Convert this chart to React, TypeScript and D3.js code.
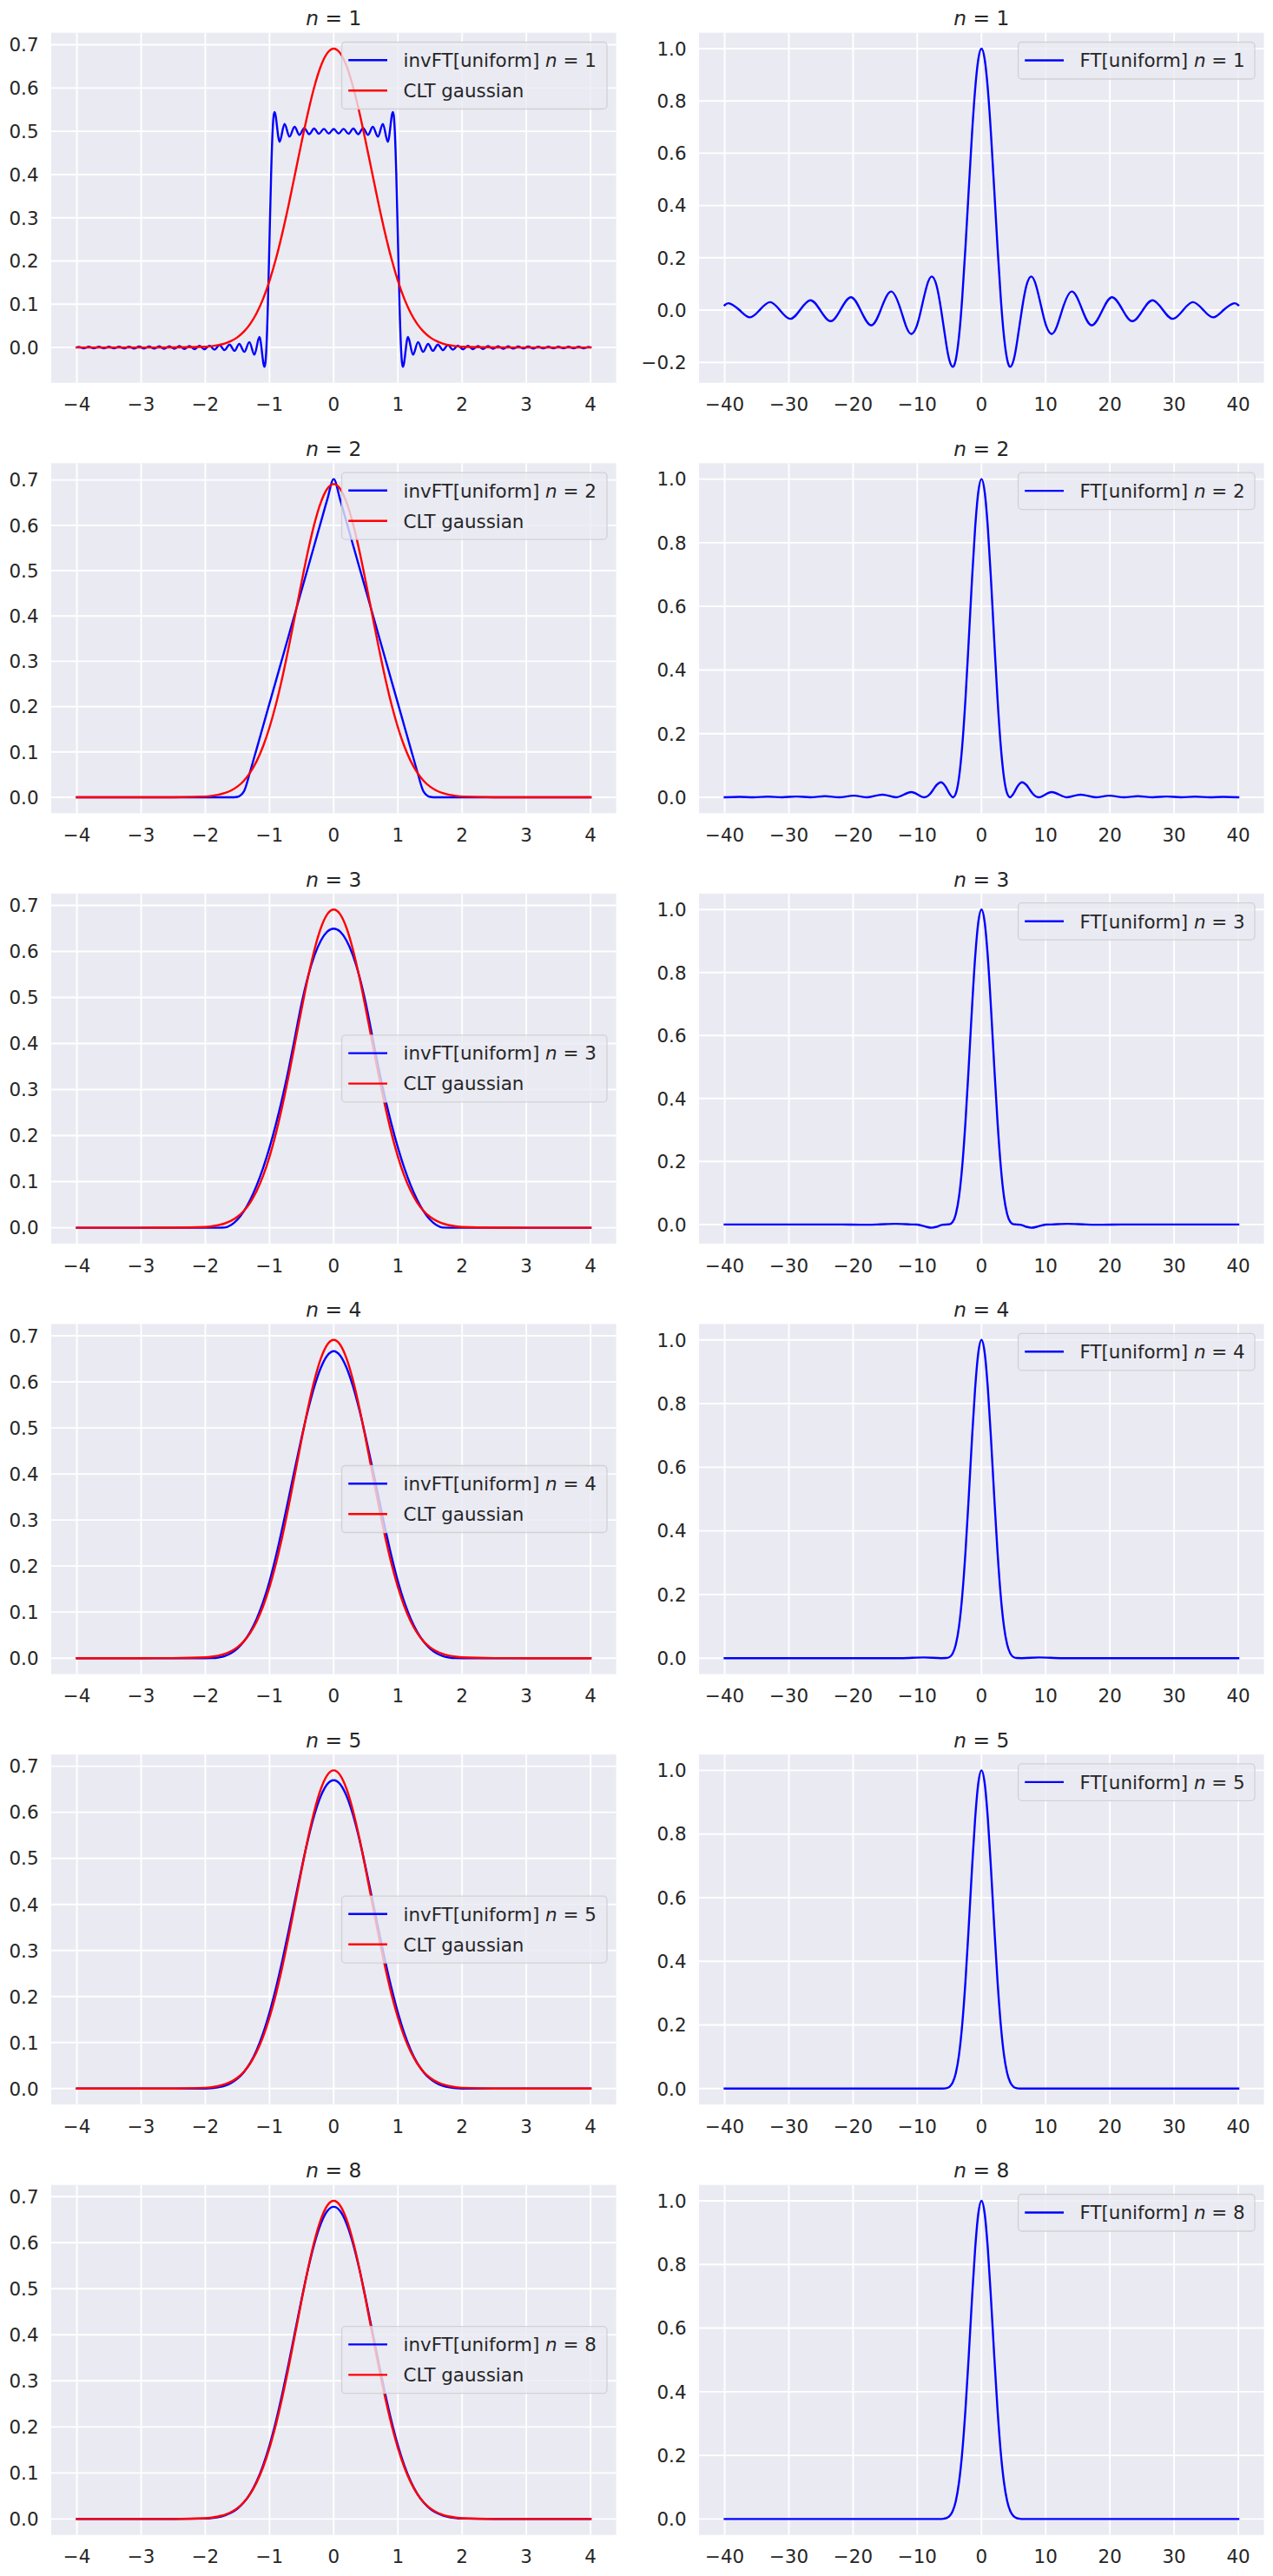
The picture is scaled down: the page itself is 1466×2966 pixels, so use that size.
import React from "react";
import * as d3 from "d3";

type Pt = [number, number];

// ---------- ticks ----------
const leftXTicks = [-4, -3, -2, -1, 0, 1, 2, 3, 4];
const leftYTicks = [0, 0.1, 0.2, 0.3, 0.4, 0.5, 0.6, 0.7];
const rightXTicks = [-40, -30, -20, -10, 0, 10, 20, 30, 40];
const rightYTicksFirst = [-0.2, 0, 0.2, 0.4, 0.6, 0.8, 1.0];
const rightYTicks = [0, 0.2, 0.4, 0.6, 0.8, 1.0];
const sumCounts = [1, 2, 3, 4, 5, 8];

// ---------- density curves on a common x grid ----------
const gridX = [
  -4, -3, -2.5, -2, -1.9, -1.8, -1.7, -1.6, -1.5, -1.4, -1.3, -1.2, -1.1, -1, -0.9, -0.8, -0.7, -0.6, -0.5, -0.4,
  -0.3, -0.2, -0.1, 0, 0.1, 0.2, 0.3, 0.4, 0.5, 0.6, 0.7, 0.8, 0.9, 1, 1.1, 1.2, 1.3, 1.4, 1.5, 1.6, 1.7, 1.8, 1.9,
  2, 2.5, 3, 4,
];

const cltGaussian = [
  0, 0, 0.0001, 0.0017, 0.0031, 0.0054, 0.0091, 0.0149, 0.0236, 0.0365, 0.0548, 0.0797, 0.1125, 0.1542, 0.205,
  0.2646, 0.3313, 0.4027, 0.4749, 0.5436, 0.6037, 0.6508, 0.6807, 0.691, 0.6807, 0.6508, 0.6037, 0.5436, 0.4749,
  0.4027, 0.3313, 0.2646, 0.205, 0.1542, 0.1125, 0.0797, 0.0548, 0.0365, 0.0236, 0.0149, 0.0091, 0.0054, 0.0031,
  0.0017, 0.0001, 0, 0,
];

const invFT2 = [
  0, 0, 0, 0, 0, 0, 0, 0, 0.001, 0.0125, 0.0575, 0.1071, 0.1571, 0.2071, 0.2571, 0.3071, 0.3571, 0.4071, 0.4571,
  0.5071, 0.5571, 0.6071, 0.6571, 0.702, 0.6571, 0.6071, 0.5571, 0.5071, 0.4571, 0.4071, 0.3571, 0.3071, 0.2571,
  0.2071, 0.1571, 0.1071, 0.0575, 0.0125, 0.001, 0, 0, 0, 0, 0, 0, 0, 0,
];

const invFT3 = [
  0, 0, 0, 0, 0, 0, 0.0003, 0.0057, 0.0175, 0.0358, 0.0606, 0.0919, 0.1297, 0.174, 0.2249, 0.2821, 0.3459, 0.4162,
  0.4871, 0.5456, 0.5911, 0.6235, 0.643, 0.6495, 0.643, 0.6235, 0.5911, 0.5456, 0.4871, 0.4162, 0.3459, 0.2821,
  0.2249, 0.174, 0.1297, 0.0919, 0.0606, 0.0358, 0.0175, 0.0057, 0.0003, 0, 0, 0, 0, 0, 0,
];

const invFT4 = [
  0, 0, 0, 0, 0.0002, 0.0013, 0.0045, 0.0107, 0.0208, 0.036, 0.0572, 0.0853, 0.1215, 0.1667, 0.2212, 0.2827, 0.3482,
  0.4147, 0.4792, 0.5387, 0.5902, 0.6307, 0.6572, 0.6667, 0.6572, 0.6307, 0.5902, 0.5387, 0.4792, 0.4147, 0.3482,
  0.2827, 0.2212, 0.1667, 0.1215, 0.0853, 0.0572, 0.036, 0.0208, 0.0107, 0.0045, 0.0013, 0.0002, 0, 0, 0, 0,
];

const invFT5 = [
  0, 0, 0, 0.0002, 0.0009, 0.0026, 0.006, 0.0119, 0.0214, 0.0356, 0.0559, 0.0837, 0.12, 0.165, 0.2181, 0.2783, 0.3436,
  0.4114, 0.4786, 0.5411, 0.5946, 0.6354, 0.661, 0.6697, 0.661, 0.6354, 0.5946, 0.5411, 0.4786, 0.4114, 0.3436,
  0.2783, 0.2181, 0.165, 0.12, 0.0837, 0.0559, 0.0356, 0.0214, 0.0119, 0.006, 0.0026, 0.0009, 0.0002, 0, 0, 0,
];

const invFT8 = [
  0, 0, 0, 0.0009, 0.002, 0.004, 0.0076, 0.0134, 0.0225, 0.036, 0.0554, 0.0818, 0.1165, 0.16, 0.2123, 0.2726, 0.3389,
  0.4085, 0.4777, 0.5424, 0.5983, 0.6415, 0.6687, 0.678, 0.6687, 0.6415, 0.5983, 0.5424, 0.4777, 0.4085, 0.3389,
  0.2726, 0.2123, 0.16, 0.1165, 0.0818, 0.0554, 0.036, 0.0225, 0.0134, 0.0076, 0.004, 0.002, 0.0009, 0, 0, 0,
];

// ---------- truncated inverse transform of the box, n = 1 (ripples kept) ----------
const invFT1: Pt[] = [
  [-4.0, 0.0007], [-3.9719, 0.0016], [-3.8935, -0.0017], [-3.8151, 0.0017], [-3.7366, -0.0018], [-3.6582, 0.0018],
  [-3.5798, -0.0019], [-3.5013, 0.0019], [-3.4229, -0.002], [-3.3445, 0.002], [-3.2661, -0.0021], [-3.1877, 0.0021],
  [-3.1093, -0.0022], [-3.031, 0.0023], [-2.9526, -0.0024], [-2.8742, 0.0025], [-2.7959, -0.0026], [-2.7176, 0.0027],
  [-2.6393, -0.0028], [-2.561, 0.0029], [-2.4827, -0.003], [-2.4044, 0.0032], [-2.3261, -0.0034], [-2.2479, 0.0035],
  [-2.1696, -0.0038], [-2.0914, 0.004], [-2.0132, -0.0043], [-1.9351, 0.0046], [-1.8569, -0.005], [-1.7788, 0.0055],
  [-1.7007, -0.006], [-1.6226, 0.0067], [-1.5446, -0.0076], [-1.4712, 0.0084], [-1.3927, -0.0101], [-1.3142, 0.0125],
  [-1.2356, -0.0166], [-1.1571, 0.0243], [-1.0785, -0.0447], [-1.0625, -0.0331], [-1.05, -0.0055], [-1.025, 0.0994],
  [-1.0, 0.25], [-0.975, 0.4006], [-0.95, 0.5055], [-0.9375, 0.5331], [-0.9215, 0.5445], [-0.8429, 0.4757],
  [-0.766, 0.5168], [-0.688, 0.4874], [-0.61, 0.5102], [-0.533, 0.4915], [-0.4594, 0.5076], [-0.3826, 0.4932],
  [-0.3059, 0.5062], [-0.2294, 0.4942], [-0.1529, 0.5055], [-0.0764, 0.4946], [0, 0.5053],
  [0.0764, 0.4946], [0.1529, 0.5055], [0.2294, 0.4942], [0.3059, 0.5062], [0.3826, 0.4932], [0.4594, 0.5076],
  [0.533, 0.4915], [0.61, 0.5102], [0.688, 0.4874], [0.766, 0.5168], [0.8429, 0.4757], [0.9215, 0.5445],
  [0.9375, 0.5331], [0.95, 0.5055], [0.975, 0.4006], [1.0, 0.25], [1.025, 0.0994], [1.05, -0.0055], [1.0625, -0.0331],
  [1.0785, -0.0447], [1.1571, 0.0243], [1.2356, -0.0166], [1.3142, 0.0125], [1.3927, -0.0101], [1.4712, 0.0084],
  [1.5446, -0.0076], [1.6226, 0.0067], [1.7007, -0.006], [1.7788, 0.0055], [1.8569, -0.005], [1.9351, 0.0046],
  [2.0132, -0.0043], [2.0914, 0.004], [2.1696, -0.0038], [2.2479, 0.0035], [2.3261, -0.0034], [2.4044, 0.0032],
  [2.4827, -0.003], [2.561, 0.0029], [2.6393, -0.0028], [2.7176, 0.0027], [2.7959, -0.0026], [2.8742, 0.0025],
  [2.9526, -0.0024], [3.031, 0.0023], [3.1093, -0.0022], [3.1877, 0.0021], [3.2661, -0.0021], [3.3445, 0.002],
  [3.4229, -0.002], [3.5013, 0.0019], [3.5798, -0.0019], [3.6582, 0.0018], [3.7366, -0.0018], [3.8151, 0.0017],
  [3.8935, -0.0017], [3.9719, 0.0016], [4.0, 0.0007],
];

// ---------- Fourier transforms of the scaled sums ----------
const ft1: Pt[] = [
  [-40, 0.0186], [-39.2444, 0.0255], [-37.6991, 0], [-36.1006, -0.0277], [-34.5575, 0], [-32.9564, 0.0303],
  [-31.4159, 0], [-29.8116, -0.0335], [-28.2743, 0], [-26.6661, 0.0375], [-25.1327, 0], [-23.5195, -0.0425],
  [-21.9911, 0], [-20.3713, 0.049], [-18.8496, 0], [-17.2208, -0.058], [-15.708, 0], [-14.0662, 0.0709],
  [-12.5664, 0], [-11.7, -0.0652], [-10.9041, -0.0913], [-10.1, -0.0619], [-9.4248, 0], [-8.5, 0.0939],
  [-7.7253, 0.1284], [-7, 0.0939], [-6.2832, 0], [-5.5, -0.1283], [-5, -0.1918], [-4.4934, -0.2172], [-4, -0.1892],
  [-3.5, -0.1002], [-3, 0.047], [-2.5, 0.2394], [-2, 0.4546], [-1.5, 0.665], [-1, 0.8415], [-0.5, 0.9589], [0, 1],
  [0.5, 0.9589], [1, 0.8415], [1.5, 0.665], [2, 0.4546], [2.5, 0.2394], [3, 0.047], [3.5, -0.1002], [4, -0.1892],
  [4.4934, -0.2172], [5, -0.1918], [5.5, -0.1283], [6.2832, 0], [7, 0.0939], [7.7253, 0.1284], [8.5, 0.0939],
  [9.4248, 0], [10.1, -0.0619], [10.9041, -0.0913], [11.7, -0.0652], [12.5664, 0], [14.0662, 0.0709], [15.708, 0],
  [17.2208, -0.058], [18.8496, 0], [20.3713, 0.049], [21.9911, 0], [23.5195, -0.0425], [25.1327, 0],
  [26.6661, 0.0375], [28.2743, 0], [29.8116, -0.0335], [31.4159, 0], [32.9564, 0.0303], [34.5575, 0],
  [36.1006, -0.0277], [37.6991, 0], [39.2444, 0.0255], [40, 0.0186],
];

const ft2: Pt[] = [
  [-40, 0], [-37.72, 0.0014], [-35.543, 0], [-33.26, 0.0018], [-31.1, 0], [-28.81, 0.0024], [-26.657, 0],
  [-24.35, 0.0034], [-22.214, 0], [-19.893, 0.005], [-17.772, 0], [-15.42, 0.0083], [-13.329, 0], [-10.925, 0.0165],
  [-8.886, 0], [-8, 0.0107], [-7.5, 0.0246], [-7, 0.0385], [-6.355, 0.0472], [-6, 0.0441], [-5.5, 0.0304],
  [-5, 0.0118], [-4.443, 0], [-4, 0.0119], [-3.5, 0.0624], [-3, 0.1613], [-2.5, 0.3078], [-2, 0.4879], [-1.5, 0.6765],
  [-1, 0.844], [-0.5, 0.959], [0, 1], [0.5, 0.959], [1, 0.844], [1.5, 0.6765], [2, 0.4879], [2.5, 0.3078],
  [3, 0.1613], [3.5, 0.0624], [4, 0.0119], [4.443, 0], [5, 0.0118], [5.5, 0.0304], [6, 0.0441], [6.355, 0.0472],
  [7, 0.0385], [7.5, 0.0246], [8, 0.0107], [8.886, 0], [10.925, 0.0165], [13.329, 0], [15.42, 0.0083], [17.772, 0],
  [19.893, 0.005], [22.214, 0], [24.35, 0.0034], [26.657, 0], [28.81, 0.0024], [31.1, 0], [33.26, 0.0018],
  [35.543, 0], [37.72, 0.0014], [40, 0],
];

const ft3: Pt[] = [
  [-40, 0], [-21.766, 0], [-18.89, -0.0008], [-16.324, 0], [-13.38, 0.0021], [-10.883, 0], [-10, -0.0006],
  [-9, -0.005], [-8.5, -0.008], [-7.783, -0.0103], [-7, -0.0073], [-6.5, -0.0036], [-6, -0.0008], [-5.441, 0],
  [-5, 0.0007], [-4.5, 0.0078], [-4, 0.0328], [-3.5, 0.0885], [-3, 0.185], [-2.5, 0.3247], [-2, 0.497],
  [-1.5, 0.6805], [-1, 0.8452], [-0.5, 0.9591], [0, 1], [0.5, 0.9591], [1, 0.8452], [1.5, 0.6805], [2, 0.497],
  [2.5, 0.3247], [3, 0.185], [3.5, 0.0885], [4, 0.0328], [4.5, 0.0078], [5, 0.0007], [5.441, 0], [6, -0.0008],
  [6.5, -0.0036], [7, -0.0073], [7.783, -0.0103], [8.5, -0.008], [9, -0.005], [10, -0.0006], [10.883, 0],
  [13.38, 0.0021], [16.324, 0], [18.89, -0.0008], [21.766, 0], [40, 0],
];

const ft4: Pt[] = [
  [-40, 0], [-12.566, 0], [-8.987, 0.0022], [-6.283, 0], [-5.5, 0.0004], [-5, 0.0033], [-4.5, 0.0143],
  [-4, 0.0427], [-3.5, 0.1], [-3, 0.1956], [-2.5, 0.3322], [-2, 0.5014], [-1.5, 0.6824], [-1, 0.8455],
  [-0.5, 0.9591], [0, 1], [0.5, 0.9591], [1, 0.8455], [1.5, 0.6824], [2, 0.5014], [2.5, 0.3322], [3, 0.1956],
  [3.5, 0.1], [4, 0.0427], [4.5, 0.0143], [5, 0.0033], [5.5, 0.0004], [6.283, 0], [8.987, 0.0022], [12.566, 0],
  [40, 0],
];

const ft5: Pt[] = [
  [-40, 0], [-7.025, 0], [-6, 0.0001], [-5.5, 0.0011], [-5, 0.0054], [-4.5, 0.0183], [-4, 0.0484], [-3.5, 0.1064],
  [-3, 0.2014], [-2.5, 0.3366], [-2, 0.5039], [-1.5, 0.6834], [-1, 0.8455], [-0.5, 0.9591], [0, 1], [0.5, 0.9591],
  [1, 0.8455], [1.5, 0.6834], [2, 0.5039], [2.5, 0.3366], [3, 0.2014], [3.5, 0.1064], [4, 0.0484], [4.5, 0.0183],
  [5, 0.0054], [5.5, 0.0011], [6, 0.0001], [7.025, 0], [40, 0],
];

const ft8: Pt[] = [
  [-40, 0], [-7, 0], [-6.5, 0.0001], [-6, 0.0007], [-5.5, 0.0028], [-5, 0.009], [-4.5, 0.0243], [-4, 0.0566],
  [-3.5, 0.1156], [-3, 0.2096], [-2.5, 0.3434], [-2, 0.5074], [-1.5, 0.6848], [-1, 0.8459], [-0.5, 0.9591], [0, 1],
  [0.5, 0.9591], [1, 0.8459], [1.5, 0.6848], [2, 0.5074], [2.5, 0.3434], [3, 0.2096], [3.5, 0.1156], [4, 0.0566],
  [4.5, 0.0243], [5, 0.009], [5.5, 0.0028], [6, 0.0007], [6.5, 0.0001], [7, 0], [40, 0],
];

// ---------- layout & style ----------
const FIG_W = 1466;
const FIG_H = 2966;
const FONT = "'DejaVu Sans', 'Liberation Sans', sans-serif";
const INK = "#262626";
const AX_BG = "#EAEAF2";
const TICK_FS = 21.4;
const TITLE_FS = 23.3;
const LEG_FS = 21.4;
const LINE_W = 2.4;
const LEFT_COL = { x0: 59, x1: 709.6 };
const RIGHT_COL = { x0: 805, x1: 1455.6 };
const TOP0 = 37.7;
const PITCH = 495.6;
const AX_H = 403;

const onGrid = (ys: number[]): Pt[] => gridX.map((x, i) => [x, ys[i]] as Pt);

const fmtY = d3.format(".1f");
const fmtX = d3.format("d");

function padded(ext: [number, number]): [number, number] {
  const pad = (ext[1] - ext[0]) * 0.05;
  return [ext[0] - pad, ext[1] + pad];
}

type Series = { data: Pt[]; color: string; curve: d3.CurveFactory };
type LegendEntry = { color: string; label: React.ReactNode };

function MathN({ n }: { n: number }) {
  return (
    <>
      <tspan fontStyle="italic">n</tspan>
      <tspan>{` = ${n}`}</tspan>
    </>
  );
}

function Panel(props: {
  id: string;
  x0: number;
  x1: number;
  top: number;
  xTicks: number[];
  yTicks: number[];
  series: Series[];
  n: number;
  legend: LegendEntry[];
  legendW: number;
  legendLoc: "upper" | "center";
}) {
  const { id, x0, x1, top, xTicks, yTicks, series, n, legend, legendW, legendLoc } = props;
  const bottom = top + AX_H;
  const allX = series.flatMap((s) => s.data.map((d) => d[0]));
  const allY = series.flatMap((s) => s.data.map((d) => d[1]));
  const x = d3.scaleLinear().domain(padded(d3.extent(allX) as [number, number])).range([x0, x1]);
  const y = d3.scaleLinear().domain(padded(d3.extent(allY) as [number, number])).range([bottom, top]);

  const legH = legend.length === 2 ? 77 : 42.5;
  const legX = x1 - 10.6 - legendW;
  const legY = legendLoc === "upper" ? top + 10.8 : top + AX_H / 2 - legH / 2;
  const rowY = legend.length === 2 ? [20.7, 55.7] : [21];

  return (
    <g>
      <defs>
        <clipPath id={id}>
          <rect x={x0} y={top} width={x1 - x0} height={AX_H} />
        </clipPath>
      </defs>
      <rect x={x0} y={top} width={x1 - x0} height={AX_H} fill={AX_BG} />
      {xTicks.map((t) => (
        <line key={`gx${t}`} x1={x(t)} x2={x(t)} y1={top} y2={bottom} stroke="#fff" strokeWidth={1.9} />
      ))}
      {yTicks.map((t) => (
        <line key={`gy${t}`} x1={x0} x2={x1} y1={y(t)} y2={y(t)} stroke="#fff" strokeWidth={1.9} />
      ))}
      <g clipPath={`url(#${id})`}>
        {series.map((s, i) => {
          const path = d3
            .line<Pt>()
            .x((d) => x(d[0]))
            .y((d) => y(d[1]))
            .curve(s.curve)(s.data);
          return (
            <path
              key={i}
              d={path || ""}
              fill="none"
              stroke={s.color}
              strokeWidth={LINE_W}
              strokeLinejoin="round"
              strokeLinecap="square"
            />
          );
        })}
      </g>
      {xTicks.map((t) => (
        <text
          key={`tx${t}`}
          x={x(t)}
          y={bottom + 32.6}
          textAnchor="middle"
          fontSize={TICK_FS}
          fill={INK}
          fontFamily={FONT}
        >
          {fmtX(t)}
        </text>
      ))}
      {yTicks.map((t) => (
        <text
          key={`ty${t}`}
          x={x0 - 14.5}
          y={y(t) + 7.8}
          textAnchor="end"
          fontSize={TICK_FS}
          fill={INK}
          fontFamily={FONT}
        >
          {fmtY(t)}
        </text>
      ))}
      <text
        x={(x0 + x1) / 2}
        y={top - 8.3}
        textAnchor="middle"
        fontSize={TITLE_FS}
        fill={INK}
        fontFamily={FONT}
        style={{ whiteSpace: "pre" }}
      >
        <MathN n={n} />
      </text>
      <g>
        <rect
          x={legX}
          y={legY}
          width={legendW}
          height={legH}
          rx={4.3}
          ry={4.3}
          fill={AX_BG}
          fillOpacity={0.8}
          stroke="#CCCCCC"
          strokeOpacity={0.8}
          strokeWidth={1.3}
        />
        {legend.map((e, i) => (
          <g key={i}>
            <line
              x1={legX + 7.7}
              x2={legX + 52.5}
              y1={legY + rowY[i]}
              y2={legY + rowY[i]}
              stroke={e.color}
              strokeWidth={LINE_W}
            />
            <text
              x={legX + 71}
              y={legY + rowY[i] + 7.8}
              fontSize={LEG_FS}
              fill={INK}
              fontFamily={FONT}
              style={{ whiteSpace: "pre" }}
            >
              {e.label}
            </text>
          </g>
        ))}
      </g>
    </g>
  );
}

const inverseSeries: Pt[][] = [
  invFT1,
  onGrid(invFT2),
  onGrid(invFT3),
  onGrid(invFT4),
  onGrid(invFT5),
  onGrid(invFT8),
];
const ftSeries: Pt[][] = [ft1, ft2, ft3, ft4, ft5, ft8];
const gaussianPts = onGrid(cltGaussian);

export default function App() {
  return (
    <div style={{ position: "absolute", left: 0, top: 0 }}>
      <svg width={FIG_W} height={FIG_H} style={{ display: "block", background: "#fff" }}>
        {sumCounts.map((n, r) => {
          const top = TOP0 + r * PITCH;
          return (
            <g key={n}>
              <Panel
                id={`clip-l-${r}`}
                x0={LEFT_COL.x0}
                x1={LEFT_COL.x1}
                top={top}
                xTicks={leftXTicks}
                yTicks={leftYTicks}
                series={[
                  { data: inverseSeries[r], color: "#0000FF", curve: d3.curveMonotoneX },
                  { data: gaussianPts, color: "#FF0000", curve: d3.curveMonotoneX },
                ]}
                n={n}
                legend={[
                  {
                    color: "#0000FF",
                    label: (
                      <>
                        <tspan>{"invFT[uniform] "}</tspan>
                        <MathN n={n} />
                      </>
                    ),
                  },
                  { color: "#FF0000", label: <tspan>CLT gaussian</tspan> },
                ]}
                legendW={305.5}
                legendLoc={r < 2 ? "upper" : "center"}
              />
              <Panel
                id={`clip-r-${r}`}
                x0={RIGHT_COL.x0}
                x1={RIGHT_COL.x1}
                top={top}
                xTicks={rightXTicks}
                yTicks={r === 0 ? rightYTicksFirst : rightYTicks}
                series={[
                  {
                    data: ftSeries[r],
                    color: "#0000FF",
                    curve: r === 0 ? d3.curveNatural : d3.curveMonotoneX,
                  },
                ]}
                n={n}
                legend={[
                  {
                    color: "#0000FF",
                    label: (
                      <>
                        <tspan>{"FT[uniform] "}</tspan>
                        <MathN n={n} />
                      </>
                    ),
                  },
                ]}
                legendW={272.5}
                legendLoc="upper"
              />
            </g>
          );
        })}
      </svg>
    </div>
  );
}
